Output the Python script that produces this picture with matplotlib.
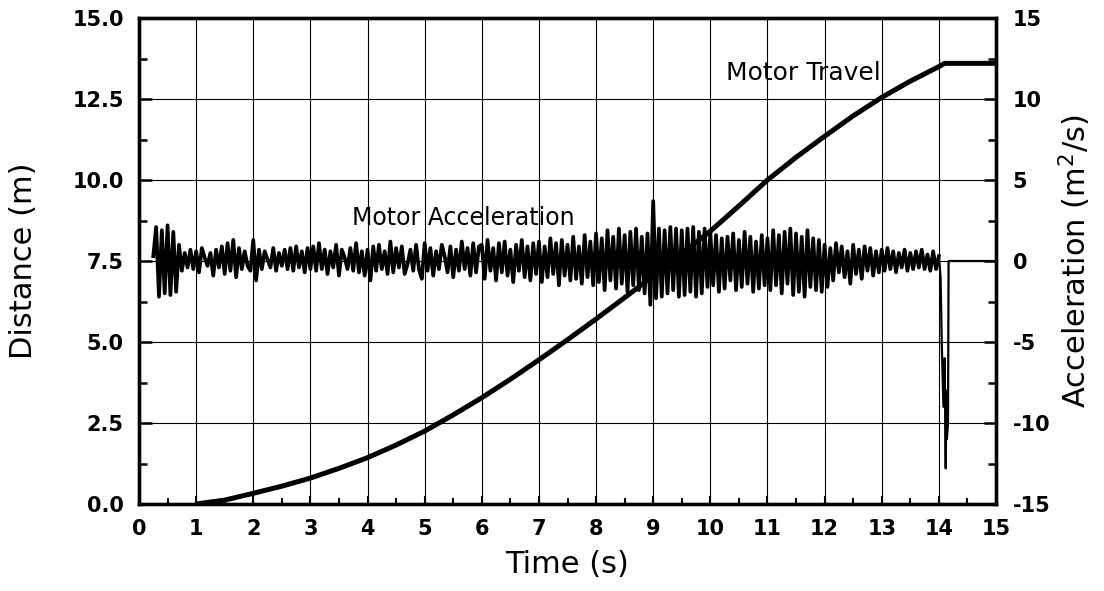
import numpy as np
import matplotlib.pyplot as plt
from matplotlib.ticker import MultipleLocator, FormatStrFormatter

plt.rcParams['font.family'] = ['DejaVu Sans']
plt.rcParams['mathtext.fontset'] = 'dejavusans'
plt.rcParams['axes.unicode_minus'] = False

# motor travel (m)
t_travel = [1.0, 1.5, 2.0, 2.5, 3.0, 3.5, 4.0, 4.5, 5.0, 5.5, 6.0, 6.5, 7.0, 7.5,
            8.0, 8.5, 9.0, 9.5, 10.0, 10.5, 11.0, 11.5, 12.0, 12.5, 13.0, 13.5, 14.0, 14.1, 15.0]
d_travel = [0.0, 0.12, 0.33, 0.55, 0.8, 1.1, 1.43, 1.82, 2.25, 2.75, 3.28, 3.85, 4.45, 5.07,
            5.71, 6.37, 7.04, 7.73, 8.42, 9.2, 10.0, 10.7, 11.35, 11.98, 12.55, 13.05, 13.5, 13.6, 13.6]

# motor acceleration, one sample every 0.05 s from 0.25 s to 14.0 s
acc_start = [0.3, 2.1, -2.2, 1.9, -2.0, 2.2, -2.1, 1.8, -1.9, 1.0, -0.6, 0.5, -0.4, 0.7, -0.5]
acc_1 = [0.6, -0.7, 0.8, 0.2, -0.3, 0.5, -0.9, 0.7, -0.4, 0.9, -0.8, 1.1, -0.6, 1.3, -1.0, 0.8, -0.5, 0.6, -0.3, -0.6]
acc_2 = [1.3, -1.2, 0.7, -0.5, 0.6, 0.1, -0.4, 0.8, -0.6, 0.5, -0.3, 0.7, -0.5, 0.8, -0.6, 0.9, -0.4, 0.6, -0.7, 0.8]
acc_3 = [-0.5, 0.9, -0.6, 1.1, -0.5, 0.7, -0.8, 0.6, -0.4, 1.0, -0.9, 0.7, 0.2, -0.5, 0.8, -0.6, 1.1, -0.7, 0.6, -0.9]
acc_4 = [0.7, -1.2, 0.9, -0.6, 1.0, -0.5, 0.6, -0.8, 1.2, -0.7, 0.8, -0.4, 0.9, -0.8, -0.2, 0.7, -0.6, 1.0, -0.5, -1.1]
acc_5 = [1.1, -0.6, 0.8, -0.9, 0.6, -0.5, 1.0, 0.3, -0.7, 0.9, -1.0, 0.7, -0.6, 1.2, -0.5, 0.8, -0.9, 1.1, -0.7, 0.9]
acc_6 = [1.0, -1.1, 1.3, -0.6, 0.8, -1.2, 1.1, -0.7, 1.2, -0.9, 0.7, -1.3, 1.0, -0.6, 1.3, -1.0, 0.9, -1.2, 1.1, -0.8]
acc_7 = [1.2, -1.3, 0.9, -1.0, 1.4, -0.8, 1.1, -1.5, 1.3, -0.9, 1.0, -1.2, 1.5, -1.1, 0.9, -1.4, 1.6, -1.0, 1.2, -1.5]
acc_8 = [1.7, -1.3, 1.4, -1.8, 1.9, -1.2, 1.5, -1.7, 2.0, -1.4, 1.6, -1.9, 1.8, -1.5, 2.0, -1.8, 1.5, -2.0, 1.7, -2.7]
acc_9 = [3.7, -2.3, 2.0, -2.2, 1.9, -2.0, 2.1, -1.8, 2.0, -2.2, 1.9, -2.1, 2.0, -1.9, 2.1, -2.2, 1.8, -2.0, 2.0, -1.6]
acc_10 = [1.8, -1.5, 1.6, -1.9, 1.4, -1.7, 1.5, -1.2, 1.7, -1.8, 1.3, -1.6, 1.8, -1.4, 1.5, -1.9, 1.2, -1.7, 1.6, -1.5]
acc_11 = [1.4, -1.8, 1.9, -1.5, 1.6, -2.0, 1.8, -1.4, 2.0, -2.1, 1.7, -1.9, 1.5, -2.2, 1.9, -1.6, 1.4, -1.8, 1.3, -1.9]
acc_12 = [1.0, -1.6, 0.8, -1.2, 1.1, -0.7, 0.9, -1.0, 0.6, -1.4, 1.0, -0.8, 0.7, -1.1, 0.9, -0.6, 0.8, -0.9, 0.6, -0.7]
acc_13 = [0.7, -0.6, 0.8, -0.5, 0.6, -0.7, 0.5, -0.4, 0.7, -0.6, 0.5, -0.5, 0.6, -0.4, 0.7, -0.5, 0.4, -0.6, 0.6, -0.5]
acc_14 = [0.3]

# braking spike at the end, then rest
t_tail = [14.0, 14.03, 14.05, 14.08, 14.10, 14.12, 14.13, 14.14, 14.16, 14.17, 15.0]
a_tail = [0.3, -1.0, -5.0, -9.0, -6.0, -12.8, -8.0, -11.0, -10.0, 0.0, 0.0]

acc = np.concatenate([acc_start, acc_1, acc_2, acc_3, acc_4, acc_5, acc_6, acc_7,
                      acc_8, acc_9, acc_10, acc_11, acc_12, acc_13, acc_14])
t_acc = 0.25 + 0.05 * np.arange(len(acc))

fig = plt.figure(figsize=(11.04, 5.91), dpi=100)
ax1 = fig.add_axes([139/1104, 87/591, 857/1104, 486/591])
ax2 = ax1.twinx()

ax1.plot(t_travel, d_travel, color='black', lw=3.6, solid_capstyle='butt')
ax2.plot(t_acc, acc, color='black', lw=2.7)
ax2.plot(t_tail, a_tail, color='black', lw=1.6)

ax1.set_xlim(0, 15)
ax1.set_ylim(0, 15)
ax2.set_ylim(-15, 15)

ax1.xaxis.set_major_locator(MultipleLocator(1))
ax1.xaxis.set_minor_locator(MultipleLocator(0.5))
ax1.yaxis.set_major_locator(MultipleLocator(2.5))
ax1.yaxis.set_minor_locator(MultipleLocator(1.25))
ax1.yaxis.set_major_formatter(FormatStrFormatter('%.1f'))
ax2.yaxis.set_major_locator(MultipleLocator(5))
ax2.yaxis.set_minor_locator(MultipleLocator(2.5))

ax1.grid(True, which='major', color='black', lw=0.8)
ax1.set_axisbelow(True)

for lab in ax1.get_xticklabels() + ax1.get_yticklabels() + ax2.get_yticklabels():
    lab.set_fontweight('bold')

ax1.tick_params(axis='x', which='major', direction='in', length=6, width=1.5, pad=11, labelsize=15)
ax1.tick_params(axis='x', which='minor', direction='in', length=4, width=1.5)
ax1.tick_params(axis='y', which='major', direction='in', length=9, width=1.8, pad=11, labelsize=15)
ax1.tick_params(axis='y', which='minor', direction='in', length=6, width=1.8)
ax2.tick_params(axis='y', which='major', direction='in', length=9, width=1.8, pad=12, labelsize=15)
ax2.tick_params(axis='y', which='minor', direction='in', length=6, width=1.8)

for ax in (ax1, ax2):
    for s in ax.spines.values():
        s.set_linewidth(2.4)

ax1.set_xlabel('Time (s)', fontsize=22)
ax1.set_ylabel('Distance (m)', fontsize=22)
ax2.set_ylabel('Acceleration (m$^2$/s)', fontsize=22)
ax1.xaxis.set_label_coords(0.5, -0.095)
ax1.yaxis.set_label_coords(-0.118, 0.5)
ax2.yaxis.set_label_coords(1.071, 0.5)

ax1.text(10.27, 13.3, 'Motor Travel', fontsize=18, va='center', ha='left')
ax1.text(3.73, 8.83, 'Motor Acceleration', fontsize=17, va='center', ha='left')

fig.savefig('out.png', dpi=100)
